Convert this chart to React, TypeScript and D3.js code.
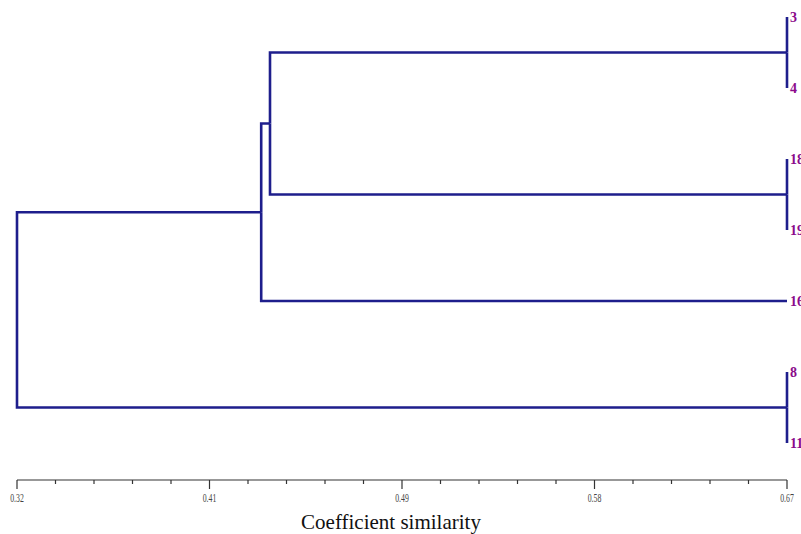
import React from 'react';
import * as d3 from 'd3';

// leaf names, top to bottom
const leaves = ['3', '4', '18', '19', '16', '8', '11'];
// merges: [child a, child b, similarity]; leaves are 0..6, merge k gets id 7 + k
const merges: [number, number, number][] = [
  [0, 1, 0.67],
  [2, 3, 0.67],
  [7, 8, 0.435],
  [9, 4, 0.431],
  [5, 6, 0.67],
  [10, 11, 0.32],
];
const tickLabels = ['0.32', '0.41', '0.49', '0.58', '0.67'];
const minorPerMajor = 5;

type N = { name: string; h: number; children?: N[] };

function buildTree(): N {
  const nodes: N[] = leaves.map(name => ({ name, h: 0.67 }));
  merges.forEach(([a, b, h], i) => {
    nodes.push({ name: 'm' + i, h, children: [nodes[a], nodes[b]] });
  });
  return nodes[nodes.length - 1];
}

export default function App() {
  const width = 801;
  const height = 534;
  const x = d3.scaleLinear().domain([0.32, 0.67]).range([17, 787]);
  const top = 17;
  const bottom = 443;
  const step = (bottom - top) / (leaves.length - 1);

  const root = d3.hierarchy(buildTree());
  d3.cluster<N>().nodeSize([step, 1]).separation(() => 1)(root);
  const minX = d3.min(root.leaves(), d => d.x as number) as number;
  const y = (d: d3.HierarchyNode<N>) => top + (d.x as number) - minX;

  const links = root.links();
  const lineColor = '#1e1e8c';

  const nTicks = (tickLabels.length - 1) * minorPerMajor;
  const [d0, d1] = x.domain();
  const ticks = d3.range(nTicks + 1).map(i => ({ v: d0 + (i * (d1 - d0)) / nTicks, major: i % minorPerMajor === 0, i }));
  const axisY = 480;

  return (
    <svg width={width} height={height} style={{ position: 'absolute', left: 0, top: 0, background: '#fff' }}>
      <g fill="none" stroke={lineColor} strokeWidth={2.6}>
        {links.map((l, i) => {
          const xp = x(l.source.data.h);
          const xc = x(l.target.data.h);
          return <path key={i} d={`M${xp},${y(l.source)}V${y(l.target)}H${xc}`} />;
        })}
      </g>
      <g fontFamily="'Liberation Serif', serif" fontSize={14} fontWeight="bold" fill="#8b0a8b">
        {root.leaves().map((d, i) => (
          <text key={i} x={x(0.67) + 3} y={y(d) + 5}>
            {d.data.name}
          </text>
        ))}
      </g>
      <g>
        <line x1={x(d0)} x2={x(d1)} y1={axisY} y2={axisY} stroke="#333" strokeWidth={1.2} />
        {ticks.map(t => (
          <line key={t.i} x1={x(t.v)} x2={x(t.v)} y1={axisY} y2={axisY + (t.major ? 9 : 4)} stroke="#333" strokeWidth={1.2} />
        ))}
        {ticks.filter(t => t.major).map((t, k) => (
          <text
            key={t.i}
            x={x(t.v)}
            y={axisY + 22}
            textAnchor="middle"
            fontFamily="'Liberation Serif', serif"
            fontSize={12}
            fill="#444"
            transform={`translate(${x(t.v)},0) scale(0.65,1) translate(${-x(t.v)},0)`}
          >
            {tickLabels[k]}
          </text>
        ))}
        <text x={391} y={529} textAnchor="middle" fontFamily="'Liberation Serif', serif" fontSize={21} fill="#111">
          Coefficient similarity
        </text>
      </g>
    </svg>
  );
}
